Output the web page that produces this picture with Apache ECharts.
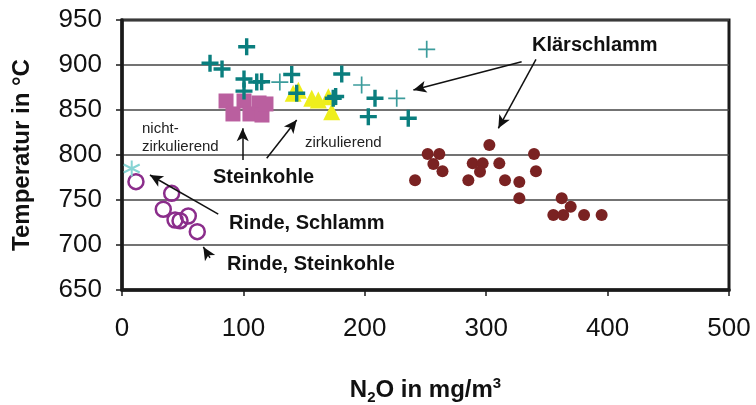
<!DOCTYPE html>
<html><head><meta charset="utf-8">
<script src="https://cdn.jsdelivr.net/npm/echarts@6/dist/echarts.min.js"></script>
<style>html,body{margin:0;padding:0;background:#fff}#c{width:756px;height:405px}</style>
</head><body><div id="c"></div>
<script>
// Klärschlamm crosses (dark / light)
const klaerDark = [[72.5,902],[82.4,895.6],[102.7,920.3],[100.5,884.4],[100.5,871],[111,881],[115,881.4],[139.8,889.4],[143.9,868.6],[174,863],[176,865],[181,890],[208.4,863],[202.9,842.6],[235.8,840.8]];
const klaerLight = [[130,881],[197.4,877.8],[226.3,863],[251,917.4]];
// Steinkohle zirkulierend (triangles)
const steinZirk = [[141,868.5],[145.3,872],[156.3,863],[161.7,861],[170,864.8],[172.7,848]];
// Steinkohle nicht-zirkulierend (squares)
const steinNicht = [[85.7,860],[91.4,845.6],[100.5,860],[105.4,845.6],[112.9,857.8],[115.3,844.4],[118.6,856.7]];
// Rinde, Schlamm (asterisk)
const rindeSchlamm = [[8,785]];
// Rinde, Steinkohle (open circles)
const rindeStein = [[11.5,770.4],[40.9,757.4],[34,739.7],[43.7,727.8],[47.8,727],[54.6,732.2],[62,714.8]];
// Klärschlamm (brown dots)
const klaerDots = [[241.4,772],[251.8,801],[261.4,801],[256.5,790],[264,782],[285.3,772],[288.9,790.7],[297.1,790.7],[294.9,781.5],[302.6,811],[310.8,790.7],[315.5,772],[327.3,770],[327.3,751.9],[339.4,801],[341,782],[362.2,752],[369.6,742.6],[355.3,733.3],[363.5,733.3],[380.6,733.3],[395.1,733.3]];
// annotation arrows [from, to] in data units
const arrows = [
  [[329.2,903.7],[240,872.2]],
  [[341,906.3],[310,829.7]],
  [[99.4,794.4],[99.4,829.7]],
  [[119.2,796.3],[143.9,838.9]],
  [[79.3,734.4],[23,777.8]],
  [[72.5,685.6],[67,697.8]]
];
const xTicks = [0,100,200,300,400,500];
const yTicks = [650,700,750,800,850,900,950];

const FONT = "'Liberation Sans', Arial, sans-serif";
const plusThick = 'path://M8,0H12V8H20V12H12V20H8V12H0V8H8Z';
const plusThin = 'path://M9,0H11V9H20V11H11V20H9V11H0V9H9Z';
const star = 'path://M10,0L10,20M1.34,5L18.66,15M1.34,15L18.66,5';

const chart = echarts.init(document.getElementById('c'));
chart.setOption({
  animation: false,
  backgroundColor: '#fff',
  grid: {left: 122, right: 27, top: 20, bottom: 115, containLabel: false, outerBoundsMode: 'none',
    show: true, borderColor: '#1a1a1a', borderWidth: 3, backgroundColor: 'transparent'},
  xAxis: {
    type: 'value', min: xTicks[0], max: xTicks[xTicks.length-1], interval: 100,
    axisLine: {show: true, onZero: false, lineStyle: {color: '#1a1a1a', width: 3.5}},
    axisTick: {show: true, inside: false, length: 6, lineStyle: {color: '#1a1a1a', width: 1.5}},
    axisLabel: {fontFamily: FONT, fontSize: 26, color: '#111', margin: 26},
    splitLine: {show: false},
    name: 'N{sub|2}O in mg/m{sup|3}', nameLocation: 'middle', nameGap: 86,
    nameTextStyle: {fontFamily: FONT, fontSize: 24, fontWeight: 'bold', color: '#111',
      rich: {sub: {fontFamily: FONT, fontSize: 15, fontWeight: 'bold', color: '#111', verticalAlign: 'bottom', padding: [12,0,0,0]},
             sup: {fontFamily: FONT, fontSize: 15, fontWeight: 'bold', color: '#111', verticalAlign: 'top', padding: [0,0,14,0]}}}
  },
  yAxis: {
    type: 'value', min: yTicks[0], max: yTicks[yTicks.length-1], interval: 50,
    axisLine: {show: true, onZero: false, lineStyle: {color: '#1a1a1a', width: 3.5}},
    axisTick: {show: true, inside: false, length: 6, lineStyle: {color: '#1a1a1a', width: 1.5}},
    axisLabel: {fontFamily: FONT, fontSize: 26, color: '#111', margin: 20},
    splitLine: {show: true, lineStyle: {color: '#444', width: 1.5}},
    name: 'Temperatur in °C', nameLocation: 'middle', nameGap: 88, nameRotate: 90,
    nameTextStyle: {fontFamily: FONT, fontSize: 24, fontWeight: 'bold', color: '#111'}
  },
  series: [
    {type: 'scatter', data: klaerDots, symbol: 'circle', symbolSize: 12, itemStyle: {color: '#7a2222', opacity: 1}},
    {type: 'scatter', data: rindeStein, symbol: 'circle', symbolSize: 15, itemStyle: {color: 'rgba(0,0,0,0)', borderColor: '#8b2d8b', borderWidth: 2.5, opacity: 1}},
    {type: 'scatter', data: rindeSchlamm, symbol: star, symbolSize: 16, itemStyle: {color: 'rgba(0,0,0,0)', borderColor: '#86d4d4', borderWidth: 2, opacity: 1}},
    {type: 'scatter', data: steinNicht, symbol: 'rect', symbolSize: 15, itemStyle: {color: '#ba5f9f', opacity: 1}},
    {type: 'scatter', data: steinZirk, symbol: 'triangle', symbolSize: 17, itemStyle: {color: '#eeee1c', opacity: 1}},
    {type: 'scatter', data: klaerLight, symbol: plusThin, symbolSize: 17, itemStyle: {color: '#3c9c9c', opacity: 1}},
    {type: 'scatter', data: klaerDark, symbol: plusThick, symbolSize: 17, itemStyle: {color: '#0a7e7e', opacity: 1}},
    {type: 'scatter', data: [], silent: true,
      markLine: {silent: true, animation: false, symbol: ['none', 'arrow'], symbolSize: [9, 13],
        lineStyle: {color: '#111', width: 1.5, type: 'solid'}, label: {show: false},
        data: arrows.map(a => [{coord: a[0]}, {coord: a[1]}])}}
  ],
  graphic: [
    {type: 'text', style: {x: 532, y: 45, text: 'Klärschlamm', font: "bold 20px " + FONT, fill: '#111', textVerticalAlign: 'middle'}},
    {type: 'text', style: {x: 142, y: 129, text: 'nicht-', font: "15px " + FONT, fill: '#222', textVerticalAlign: 'middle'}},
    {type: 'text', style: {x: 142, y: 147, text: 'zirkulierend', font: "15px " + FONT, fill: '#222', textVerticalAlign: 'middle'}},
    {type: 'text', style: {x: 305, y: 143, text: 'zirkulierend', font: "15px " + FONT, fill: '#222', textVerticalAlign: 'middle'}},
    {type: 'text', style: {x: 213, y: 177, text: 'Steinkohle', font: "bold 20px " + FONT, fill: '#111', textVerticalAlign: 'middle'}},
    {type: 'text', style: {x: 229, y: 223, text: 'Rinde, Schlamm', font: "bold 20px " + FONT, fill: '#111', textVerticalAlign: 'middle'}},
    {type: 'text', style: {x: 227, y: 264, text: 'Rinde, Steinkohle', font: "bold 20px " + FONT, fill: '#111', textVerticalAlign: 'middle'}}
  ]
});
</script></body></html>
